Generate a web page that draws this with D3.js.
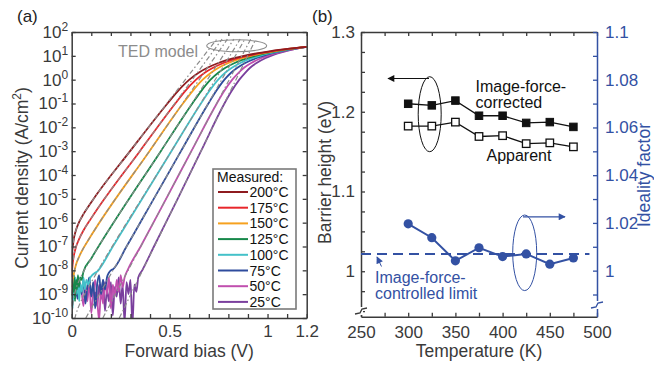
<!DOCTYPE html>
<html><head><meta charset="utf-8">
<script src="https://cdn.jsdelivr.net/npm/d3@7"></script>
<style>
body{margin:0;background:#fff}
svg{display:block}
text{font-family:"Liberation Sans",Arial,Helvetica,sans-serif}
</style>
</head><body>
<svg id="c" width="654" height="365"></svg>
<script>
// ---------------- DATA ----------------
const tempLabels = ["200°C","175°C","150°C","125°C","100°C","75°C","50°C","25°C"];
const tempColors = ["#8e1b1f","#e8262b","#f6a11f","#17884a","#44c1c9","#2e4c9d","#c04fae","#7a3f9d"];
// measured J-V curves: [V, log10 J]
const meas200 = [[0,-8.0],[0.002,-7.3],[0.005,-7.05],[0.01,-6.72],[0.02,-6.36],[0.04,-5.94],[0.06,-5.64],[0.1,-5.14],[0.298,-3],[0.489,-1],[0.540,-0.5],[0.601,0],[0.650,0.3],[0.693,0.5],[0.749,0.7],[0.828,0.9],[0.879,1.0],[0.942,1.1],[1.017,1.2],[1.111,1.3],[1.2,1.38]];
const meas175 = [[0,-8.3],[0.003,-7.9],[0.01,-7.43],[0.02,-7.07],[0.04,-6.65],[0.06,-6.33],[0.1,-5.81],[0.348,-3],[0.529,-1],[0.577,-0.5],[0.635,0],[0.681,0.3],[0.722,0.5],[0.775,0.7],[0.848,0.9],[0.897,1.0],[0.956,1.1],[1.027,1.2],[1.115,1.3],[1.2,1.38]];
const meas150 = [[0,-8.7],[0.005,-8.4],[0.01,-8.19],[0.02,-7.82],[0.04,-7.39],[0.06,-7.07],[0.1,-6.53],[0.397,-3],[0.568,-1],[0.615,-0.5],[0.669,0],[0.713,0.3],[0.750,0.5],[0.800,0.7],[0.870,0.9],[0.916,1.0],[0.971,1.1],[1.038,1.2],[1.120,1.3],[1.2,1.38]];
const meas125 = [[0,-9.1],[0.004,-8.3],[0.008,-8.9],[0.012,-8.2],[0.017,-9.3],[0.022,-8.4],[0.027,-8.8],[0.032,-8.2],[0.037,-8.7],[0.043,-8.3],[0.05,-8.4],[0.06,-8.06],[0.1,-7.5],[0.455,-3],[0.616,-1],[0.659,-0.5],[0.709,0],[0.750,0.3],[0.785,0.5],[0.832,0.7],[0.896,0.9],[0.938,1.0],[0.988,1.1],[1.050,1.2],[1.126,1.3],[1.2,1.38]];
const meas100 = [[0,-8.9],[0.005,-9.6],[0.01,-8.5],[0.015,-9.2],[0.02,-8.3],[0.026,-9.0],[0.032,-8.4],[0.038,-9.3],[0.045,-8.6],[0.052,-8.9],[0.06,-8.3],[0.067,-8.8],[0.075,-8.4],[0.085,-8.6],[0.095,-8.3],[0.136,-8],[0.21,-7],[0.509,-3],[0.660,-1],[0.701,-0.5],[0.748,0],[0.785,0.3],[0.818,0.5],[0.861,0.7],[0.920,0.9],[0.960,1.0],[1.006,1.1],[1.063,1.2],[1.133,1.3],[1.2,1.38]];
const meas75 = [[0.02,-8.6],[0.03,-9.2],[0.04,-8.5],[0.05,-9.0],[0.06,-8.4],[0.07,-9.4],[0.08,-8.7],[0.09,-8.3],[0.1,-9.1],[0.11,-8.5],[0.12,-9.6],[0.13,-8.6],[0.14,-8.2],[0.15,-9.0],[0.16,-8.4],[0.17,-8.8],[0.18,-8.3],[0.19,-8.1],[0.2,-8.0],[0.211,-7.95],[0.28,-7],[0.419,-5],[0.558,-3],[0.698,-1],[0.736,-0.5],[0.780,0],[0.815,0.3],[0.846,0.5],[0.886,0.7],[0.941,0.9],[0.977,1.0],[1.020,1.1],[1.073,1.2],[1.138,1.3],[1.2,1.38]];
const meas50 = [[0.05,-8.8],[0.06,-9.5],[0.07,-8.6],[0.08,-9.3],[0.09,-8.5],[0.1,-9.8],[0.11,-8.9],[0.12,-8.4],[0.13,-9.2],[0.14,-10.1],[0.15,-8.7],[0.16,-9.4],[0.17,-8.5],[0.18,-9.0],[0.19,-8.3],[0.2,-9.6],[0.21,-8.6],[0.22,-9.1],[0.23,-8.4],[0.24,-8.9],[0.25,-8.2],[0.26,-8.7],[0.27,-8.3],[0.285,-8.0],[0.352,-7],[0.482,-5],[0.611,-3],[0.741,-1],[0.777,-0.5],[0.820,0],[0.853,0.3],[0.880,0.5],[0.917,0.7],[0.966,0.9],[0.998,1.0],[1.037,1.1],[1.084,1.2],[1.144,1.3],[1.2,1.38]];
const meas25 = [[0.12,-8.9],[0.13,-9.5],[0.14,-8.6],[0.15,-9.2],[0.16,-8.4],[0.17,-9.7],[0.18,-8.8],[0.19,-9.3],[0.2,-8.5],[0.21,-9.9],[0.22,-8.7],[0.23,-9.1],[0.24,-8.3],[0.25,-9.4],[0.26,-8.6],[0.27,-10.2],[0.28,-8.5],[0.29,-9.0],[0.3,-8.4],[0.31,-10.3],[0.32,-8.6],[0.33,-8.9],[0.34,-8.3],[0.36,-8.0],[0.42,-7],[0.541,-5],[0.660,-3],[0.780,-1],[0.815,-0.5],[0.856,0],[0.887,0.3],[0.911,0.5],[0.944,0.7],[0.988,0.9],[1.017,1.0],[1.052,1.1],[1.095,1.2],[1.148,1.3],[1.2,1.38]];
// TED model curves: [V, log10 J]
const ted200 = [[0.0003,-8.3],[0.001,-7.77],[0.005,-7.05],[0.01,-6.72],[0.02,-6.36],[0.04,-5.94],[0.06,-5.64],[0.1,-5.14],[0.298,-3],[0.741,1.7]];
const ted175 = [[0.0001,-9.5],[0.001,-8.48],[0.003,-7.99],[0.01,-7.43],[0.02,-7.07],[0.04,-6.65],[0.06,-6.33],[0.1,-5.81],[0.348,-3],[0.768,1.7]];
const ted150 = [[0.0005,-9.54],[0.002,-8.93],[0.005,-8.52],[0.01,-8.19],[0.02,-7.82],[0.04,-7.39],[0.06,-7.07],[0.1,-6.53],[0.397,-3],[0.795,1.7]];
const ted125 = [[0.002,-9.95],[0.005,-9.54],[0.01,-9.2],[0.02,-8.83],[0.04,-8.39],[0.06,-8.06],[0.1,-7.5],[0.455,-3],[0.828,1.7]];
const ted100 = [[0.015,-10.05],[0.02,-9.89],[0.04,-9.43],[0.06,-9.09],[0.1,-8.5],[0.509,-3],[0.860,1.7]];
const ted75 = [[0.072,-10],[0.558,-3],[0.884,1.7]];
const ted50 = [[0.159,-10],[0.611,-3],[0.914,1.7]];
const ted25 = [[0.243,-10],[0.660,-3],[0.940,1.7]];
const measuredSeries = [meas200,meas175,meas150,meas125,meas100,meas75,meas50,meas25];
const tedSeries = [ted200,ted175,ted150,ted125,ted100,ted75,ted50,ted25];
const biasTicks = [0,0.1,0.2,0.3,0.4,0.5,0.6,0.7,0.8,0.9,1.0,1.1,1.2];
const biasLabels = ["0","","","","","0.5","","","","","1","","1.2"];
const decadeExps = [-10,-9,-8,-7,-6,-5,-4,-3,-2,-1,0,1,2];

// panel (b)
const temperatureK = [300,325,350,375,400,425,450,475];
const phiCorrected = [1.210,1.208,1.214,1.195,1.195,1.186,1.187,1.181];
const phiApparent  = [1.182,1.182,1.187,1.169,1.170,1.160,1.161,1.156];
const ideality     = [1.0196,1.0138,1.0041,1.0096,1.0059,1.0070,1.0027,1.0053];
const idealityLimit = 1.007;
const limitRangeK = [250,492];
const tempTicks = [250,275,300,325,350,375,400,425,450,475,500];
const tempLabelTicks = [250,300,350,400,450,500];
const phiTicks = [1.3,1.275,1.25,1.225,1.2,1.175,1.15,1.125,1.1,1.075,1.05,1.025,1.0,0.975,0.95];
const phiLabelTicks = [1.3,1.2,1.1,1.0];
const nTicks = [1.1,1.09,1.08,1.07,1.06,1.05,1.04,1.03,1.02,1.01,1.0,0.99];
const nLabelTicks = [1.1,1.08,1.06,1.04,1.02,1.0];

// ---------------- DRAW ----------------
const svg = d3.select("#c");
const AX = "#3a3a3a", BLUE = "#3351a3", GRAY = "#8c8c8c";
const FS = 17;

// ----- panel (a) -----
const xV = d3.scaleLinear().domain([0,1.2]).range([71.7,306.7]);
const yJ = d3.scaleLog().domain([1e-10,1e2]).range([318,32]);
svg.append("clipPath").attr("id","clipA").append("rect")
  .attr("x",xV(0)).attr("y",yJ(1e2)).attr("width",xV(1.2)-xV(0)).attr("height",yJ(1e-10)-yJ(1e2));
const lineJ = d3.line().x(d=>xV(d[0])).y(d=>yJ(Math.pow(10,d[1]))).curve(d3.curveMonotoneX);
const gA = svg.append("g").attr("clip-path","url(#clipA)");
for (let i = measuredSeries.length-1; i >= 0; i--) {
  gA.append("path").attr("d",lineJ(measuredSeries[i])).attr("fill","none")
    .attr("stroke",tempColors[i]).attr("stroke-width",1.8).attr("stroke-linejoin","round");
}
for (let i = tedSeries.length-1; i >= 0; i--) {
  gA.append("path").attr("d",lineJ(tedSeries[i])).attr("fill","none")
    .attr("stroke",GRAY).attr("stroke-width",1.2).attr("stroke-dasharray","5,2.5,1.5,2.5");
}

function styleAxis(g, color) {
  g.select(".domain").attr("stroke",color).attr("stroke-width",1.5);
  g.selectAll(".tick line").attr("stroke",color).attr("stroke-width",1.3);
  g.selectAll(".tick text").attr("fill",color).attr("font-size",FS).attr("font-family",null);
  g.attr("font-family",null);
}
// bottom
let g = svg.append("g").attr("transform",`translate(0,${yJ(1e-10)})`)
  .call(d3.axisBottom(xV).tickValues(biasTicks).tickSizeInner(-4).tickSizeOuter(0).tickPadding(7)
    .tickFormat((d,i)=>biasLabels[i]));
styleAxis(g, AX);
g = svg.append("g").attr("transform",`translate(0,${yJ(1e2)})`)
  .call(d3.axisTop(xV).tickValues(biasTicks).tickSizeInner(-4).tickSizeOuter(0).tickFormat(""));
styleAxis(g, AX);
g = svg.append("g").attr("transform",`translate(${xV(0)},0)`)
  .call(d3.axisLeft(yJ).tickValues(decadeExps.map(e=>Math.pow(10,e))).tickSizeInner(-4).tickSizeOuter(0).tickPadding(3.5)
    .tickFormat(""));
styleAxis(g, AX);
g.selectAll(".tick text").each(function(d){
  const t = d3.select(this);
  t.append("tspan").text("10");
  t.append("tspan").attr("dy",-7).attr("font-size",12).text(String(Math.round(Math.log10(d))));
});
g = svg.append("g").attr("transform",`translate(${xV(1.2)},0)`)
  .call(d3.axisRight(yJ).tickValues(decadeExps.map(e=>Math.pow(10,e))).tickSizeInner(-4).tickSizeOuter(0).tickFormat(""));
styleAxis(g, AX);

// axis titles (a)
svg.append("text").attr("x",(xV(0)+xV(1.2))/2).attr("y",356.5).attr("text-anchor","middle")
  .attr("font-size",17.5).attr("fill",AX).text("Forward bias (V)");
const yt = svg.append("text").attr("transform","translate(27.5,178) rotate(-90)").attr("text-anchor","middle")
  .attr("font-size",17.5).attr("fill",AX);
yt.append("tspan").text("Current density (A/cm");
yt.append("tspan").attr("dy",-7).attr("font-size",12).text("2");
yt.append("tspan").attr("dy",7).text(")");
svg.append("text").attr("x",17).attr("y",22).attr("font-size",17).attr("fill","#222").text("(a)");

// TED model annotation
svg.append("ellipse").attr("cx",236.7).attr("cy",45.8).attr("rx",30).attr("ry",6)
  .attr("fill","none").attr("stroke",GRAY).attr("stroke-width",1.1);
svg.append("text").attr("x",118).attr("y",57).attr("font-size",16).attr("fill",GRAY).text("TED model");

// legend
const LS = 15.7;
const lg = svg.append("g");
lg.append("rect").attr("x",213).attr("y",169).attr("width",83).attr("height",140)
  .attr("fill","#fff").attr("stroke","#7a7a7a").attr("stroke-width",1.6);
lg.append("text").attr("x",217).attr("y",181.5).attr("font-size",14).attr("fill","#111").text("Measured:");
tempLabels.forEach((t,i)=>{
  const y = 192 + i*LS;
  lg.append("line").attr("x1",218).attr("x2",248).attr("y1",y).attr("y2",y)
    .attr("stroke",tempColors[i]).attr("stroke-width",2);
  lg.append("text").attr("x",249.5).attr("y",y+5).attr("font-size",14).attr("fill","#111").text(t);
});

// ----- panel (b) -----
const xT = d3.scaleLinear().domain([250,500]).range([361,597]);
const yB = d3.scaleLinear().domain([0.943,1.3]).range([316.7,32]);
const yN = d3.scaleLinear().domain([0.9807,1.1]).range([316.7,32]);

g = svg.append("g").attr("transform",`translate(0,${yB(0.943)})`)
  .call(d3.axisBottom(xT).tickValues(tempTicks).tickSizeInner(-4).tickSizeOuter(0).tickPadding(9)
    .tickFormat(d=>tempLabelTicks.includes(d)?String(d):""));
styleAxis(g, AX);
g = svg.append("g").attr("transform",`translate(0,${yB(1.3)})`)
  .call(d3.axisTop(xT).tickValues(tempTicks).tickSizeInner(-4).tickSizeOuter(0).tickFormat(""));
styleAxis(g, AX);
g = svg.append("g").attr("transform",`translate(${xT(250)},0)`)
  .call(d3.axisLeft(yB).tickValues(phiTicks).tickSizeInner(-4).tickSizeOuter(0).tickPadding(6)
    .tickFormat(d=>phiLabelTicks.some(v=>Math.abs(v-d)<1e-6)?(Math.abs(d-1)<1e-6?"1":d.toFixed(1)):""));
styleAxis(g, AX);
g = svg.append("g").attr("transform",`translate(${xT(500)},0)`)
  .call(d3.axisRight(yN).tickValues(nTicks).tickSizeInner(-4).tickSizeOuter(0).tickPadding(8)
    .tickFormat(d=>nLabelTicks.some(v=>Math.abs(v-d)<1e-6)?(Math.abs(d-1)<1e-6?"1":(Math.abs(d-1.1)<1e-6?"1.1":d.toFixed(2))):""));
styleAxis(g, BLUE);

// axis breaks
function brk(x, y, color) {
  svg.append("rect").attr("x",x-2).attr("y",y-4).attr("width",4).attr("height",8).attr("fill","#fff");
  svg.append("path").attr("d",`M${x-6},${y+3} L${x-1},${y+2} L${x+1},${y-2} L${x+6},${y-3}`)
    .attr("fill","none").attr("stroke",color).attr("stroke-width",1.4);
}
brk(xT(250), 311, AX);
brk(xT(500), 305, BLUE);

// titles (b)
svg.append("text").attr("x",(xT(250)+xT(500))/2).attr("y",356.5).attr("text-anchor","middle")
  .attr("font-size",17.5).attr("fill",AX).text("Temperature (K)");
svg.append("text").attr("transform","translate(330.5,172.5) rotate(-90)").attr("text-anchor","middle")
  .attr("font-size",17.5).attr("fill",AX).text("Barrier height (eV)");
svg.append("text").attr("transform","translate(649.5,175) rotate(-90)").attr("text-anchor","middle")
  .attr("font-size",17.5).attr("fill",BLUE).text("Ideality factor");
svg.append("text").attr("x",312).attr("y",22).attr("font-size",17).attr("fill","#222").text("(b)");

// data marks (b)
const lineB = (arr, ys) => d3.line().x((d,i)=>xT(temperatureK[i])).y(d=>ys(d))(arr);
svg.append("line").attr("x1",xT(limitRangeK[0])).attr("x2",xT(limitRangeK[1]))
  .attr("y1",yN(idealityLimit)).attr("y2",yN(idealityLimit))
  .attr("stroke",BLUE).attr("stroke-width",2).attr("stroke-dasharray","10,6");
svg.append("path").attr("d",lineB(ideality,yN)).attr("fill","none").attr("stroke",BLUE).attr("stroke-width",2);
svg.selectAll("circle.n").data(ideality).enter().append("circle")
  .attr("cx",(d,i)=>xT(temperatureK[i])).attr("cy",d=>yN(d)).attr("r",4.6).attr("fill",BLUE);

svg.append("path").attr("d",lineB(phiCorrected,yB)).attr("fill","none").attr("stroke","#111").attr("stroke-width",1.3);
svg.append("path").attr("d",lineB(phiApparent,yB)).attr("fill","none").attr("stroke","#111").attr("stroke-width",1.3);
const sq = 7.5;
svg.selectAll("rect.c").data(phiCorrected).enter().append("rect")
  .attr("x",(d,i)=>xT(temperatureK[i])-sq/2).attr("y",d=>yB(d)-sq/2).attr("width",sq).attr("height",sq)
  .attr("fill","#111").attr("stroke","#111").attr("stroke-width",1);
svg.selectAll("rect.a").data(phiApparent).enter().append("rect")
  .attr("x",(d,i)=>xT(temperatureK[i])-sq/2).attr("y",d=>yB(d)-sq/2).attr("width",sq).attr("height",sq)
  .attr("fill","#fff").attr("stroke","#111").attr("stroke-width",1.3);

// annotations (b)
const defs = svg.append("defs");
function arrowHead(id,color){
  defs.append("marker").attr("id",id).attr("viewBox","0 0 10 10").attr("refX",9).attr("refY",5)
    .attr("markerWidth",9).attr("markerHeight",7).attr("markerUnits","userSpaceOnUse").attr("orient","auto")
    .append("path").attr("d","M0,0 L10,5 L0,10 Z").attr("fill",color);
}
arrowHead("ahK","#111"); arrowHead("ahB",BLUE);
svg.append("ellipse").attr("cx",429.7).attr("cy",114.2).attr("rx",11.5).attr("ry",37.5)
  .attr("fill","none").attr("stroke","#111").attr("stroke-width",1);
svg.append("line").attr("x1",429).attr("y1",78.5).attr("x2",388).attr("y2",78.5)
  .attr("stroke","#111").attr("stroke-width",1.2).attr("marker-end","url(#ahK)");
svg.append("text").attr("x",475.5).attr("y",91.7).attr("font-size",16).attr("fill","#111").text("Image-force-");
svg.append("text").attr("x",475.5).attr("y",107.5).attr("font-size",16).attr("fill","#111").text("corrected");
svg.append("text").attr("x",486.5).attr("y",161).attr("font-size",16).attr("fill","#111").text("Apparent");

svg.append("ellipse").attr("cx",524.7).attr("cy",252.8).attr("rx",12).attr("ry",37.8)
  .attr("fill","none").attr("stroke",BLUE).attr("stroke-width",1);
svg.append("line").attr("x1",523).attr("y1",216.8).attr("x2",565).attr("y2",216.8)
  .attr("stroke",BLUE).attr("stroke-width",1.2).attr("marker-end","url(#ahB)");
svg.append("text").attr("x",375).attr("y",282.7).attr("font-size",16).attr("fill",BLUE).text("Image-force-");
svg.append("text").attr("x",375).attr("y",298.5).attr("font-size",16).attr("fill",BLUE).text("controlled limit");
svg.append("line").attr("x1",381.5).attr("y1",266.5).attr("x2",377).attr("y2",257)
  .attr("stroke",BLUE).attr("stroke-width",1).attr("marker-end","url(#ahB)");
</script>
</body></html>
